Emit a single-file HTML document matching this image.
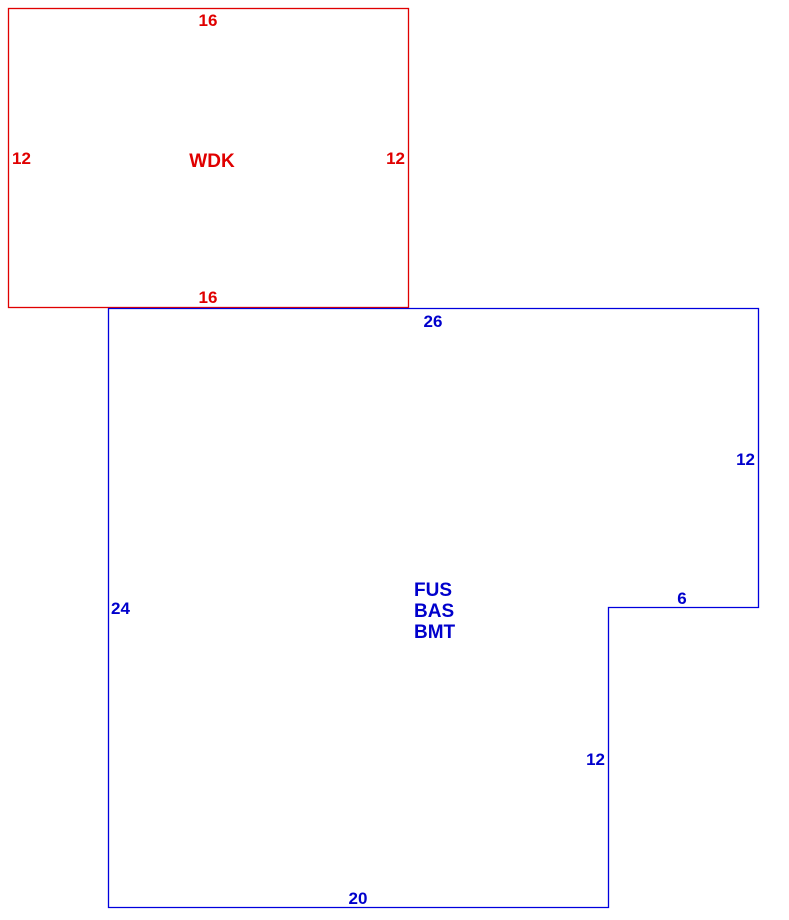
<!DOCTYPE html>
<html><head><style>body{margin:0;background:#fff}svg{display:block}text{font-family:"Liberation Sans",sans-serif;font-weight:bold;font-size:17px}text.w{font-size:19px;font-weight:bold}</style></head>
<body>
<svg width="789" height="920" xmlns="http://www.w3.org/2000/svg">
<rect x="8.5" y="8.5" width="400" height="299" fill="none" stroke="#e00000" stroke-width="1.3"/>
<g fill="#e00000">
<text x="208" y="26" text-anchor="middle">16</text>
<text x="208" y="303" text-anchor="middle">16</text>
<text x="12" y="164">12</text>
<text x="405" y="164" text-anchor="end">12</text>
<text class="w" x="212" y="167" text-anchor="middle">WDK</text>
</g>
<polygon points="108.5,308.5 758.5,308.5 758.5,607.5 608.5,607.5 608.5,907.5 108.5,907.5" fill="none" stroke="#0000dd" stroke-width="1.3"/>
<g fill="#0000cc">
<text x="433" y="327" text-anchor="middle">26</text>
<text x="755" y="465" text-anchor="end">12</text>
<text x="682" y="604" text-anchor="middle">6</text>
<text x="605" y="765" text-anchor="end">12</text>
<text x="358" y="904" text-anchor="middle">20</text>
<text x="111" y="614">24</text>
<text class="w" x="414" y="596">FUS</text>
<text class="w" x="414" y="617">BAS</text>
<text class="w" x="414" y="638">BMT</text>
</g>
</svg>
</body></html>
